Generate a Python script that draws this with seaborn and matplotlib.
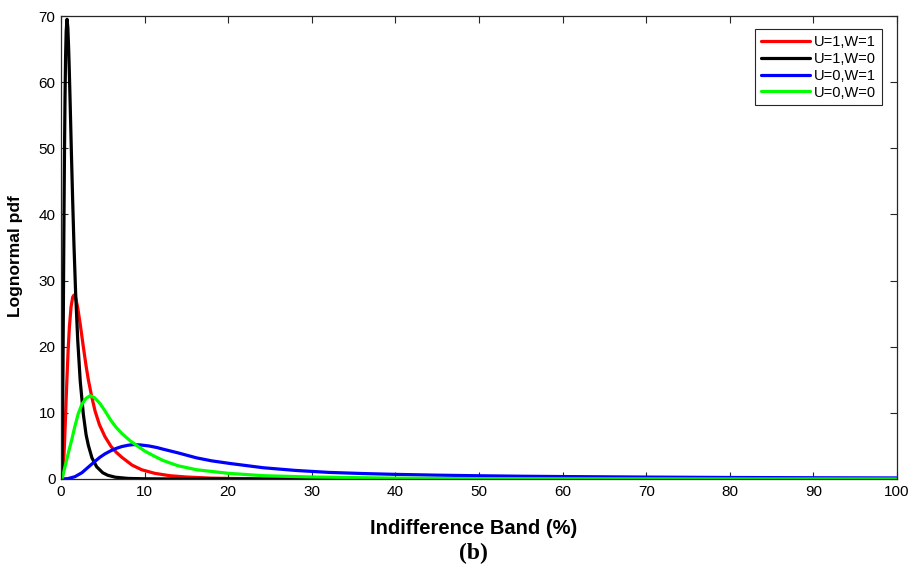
import numpy as np
import pandas as pd
import matplotlib
matplotlib.use("Agg")
import matplotlib.pyplot as plt
import seaborn as sns

# ---- data (x in %, y = lognormal pdf) ----
series_names = ["U=1,W=1", "U=1,W=0", "U=0,W=1", "U=0,W=0"]
series_colors = ["#ff0000", "#000000", "#0000ff", "#00ff00"]

x_u1w1 = [0, 0.1, 0.2, 0.3, 0.4, 0.5, 0.6, 0.7, 0.85, 1.0, 1.2, 1.4, 1.55, 1.75, 2.0,
          2.3, 2.67, 3.0, 3.27, 3.7, 4.07, 4.6, 5.26, 6.0, 6.6, 7.26, 8.5, 9.65, 11.2, 13,
          15, 18, 22, 30, 40, 100]
y_u1w1 = [0, 0.05, 0.6, 2.2, 4.8, 8.0, 11.5, 14.8, 19.4, 22.9, 26.0, 27.5, 27.8, 27.4,
          25.9, 23.4, 20.0, 17.1, 15.0, 12.3, 10.3, 8.2, 6.4, 4.9, 4.05, 3.3, 2.1, 1.4,
          0.86, 0.5, 0.3, 0.13, 0.05, 0.01, 0, 0]

x_u1w0 = [0, 0.05, 0.1, 0.16, 0.24, 0.3, 0.36, 0.42, 0.48, 0.55, 0.62, 0.72, 0.82, 0.92,
          1.0, 1.1, 1.25, 1.4, 1.55, 1.75, 2.0, 2.3, 2.67, 3.0, 3.27, 3.7, 4.27, 5.0,
          5.6, 6.5, 8, 10, 15, 100]
y_u1w0 = [0, 0.02, 0.8, 5.2, 17.4, 28.9, 40.0, 49.8, 57.6, 64.0, 67.7, 69.5, 68.2, 64.9,
          61.4, 56.6, 49.0, 41.9, 35.4, 28.1, 21.0, 14.8, 9.8, 6.7, 5.1, 3.2, 1.84, 0.94,
          0.56, 0.27, 0.09, 0.03, 0, 0]

x_u0w1 = [0, 0.8, 1.67, 2.5, 3.27, 4.0, 4.67, 5.26, 6.0, 6.66, 7.26, 8.0, 8.65, 9.5,
          10.5, 11.5, 12.24, 14, 16.2, 18, 20.2, 24.2, 28, 32, 36, 40, 45, 50, 55, 60,
          70, 80, 90, 100]
y_u0w1 = [0, 0.05, 0.35, 0.95, 1.8, 2.6, 3.3, 3.8, 4.3, 4.65, 4.9, 5.1, 5.2, 5.15,
          5.0, 4.75, 4.5, 3.95, 3.2, 2.75, 2.35, 1.7, 1.3, 1.0, 0.83, 0.7, 0.58, 0.49,
          0.42, 0.37, 0.29, 0.23, 0.19, 0.16]

x_u0w0 = [0, 0.15, 0.28, 0.45, 0.68, 0.95, 1.28, 1.65, 2.07, 2.5, 3.0, 3.5, 4.0, 4.67,
          5.26, 5.6, 6.0, 6.6, 7.26, 8.25, 9.25, 10.05, 11.24, 12.2, 14, 16.2, 20, 24.2,
          30, 40, 50, 60, 80, 100]
y_u0w0 = [0, 0.2, 0.86, 1.7, 2.9, 4.3, 5.9, 7.9, 9.9, 11.3, 12.2, 12.6, 12.3, 11.4,
          10.3, 9.6, 8.8, 7.8, 6.9, 5.8, 4.9, 4.2, 3.4, 2.8, 2.0, 1.4, 0.86, 0.5,
          0.3, 0.13, 0.06, 0.03, 0.01, 0.005]

x_ticks = list(range(0, 101, 10))
y_ticks = list(range(0, 71, 10))

frames = []
for name, xs, ys in zip(series_names,
                        [x_u1w1, x_u1w0, x_u0w1, x_u0w0],
                        [y_u1w1, y_u1w0, y_u0w1, y_u0w0]):
    frames.append(pd.DataFrame({"x": xs, "y": ys, "series": name}))
df = pd.concat(frames, ignore_index=True)

# ---- style ----
sns.set_style("ticks")
plt.rcParams["font.family"] = ["Liberation Sans", "DejaVu Sans"]
plt.rcParams["text.color"] = "black"
plt.rcParams["axes.labelcolor"] = "black"
plt.rcParams["xtick.color"] = "black"
plt.rcParams["ytick.color"] = "black"

fig = plt.figure(figsize=(9.14, 5.66), dpi=100)
ax = fig.add_axes([61 / 914, 1 - 479 / 566, 836 / 914, 463 / 566])

sns.lineplot(data=df, x="x", y="y", hue="series", hue_order=series_names,
             palette=series_colors, estimator=None, sort=False, linewidth=2.3,
             legend=False, ax=ax)

ax.set_xlim(0, 100)
ax.set_ylim(0, 70)
ax.set_xticks(x_ticks)
ax.set_yticks(y_ticks)
ax.tick_params(direction="in", top=True, right=True, length=5, width=0.8,
               labelsize=11, pad=4, colors="#262626", labelcolor="black")
for sp in ax.spines.values():
    sp.set_visible(True)
    sp.set_color("#262626")
    sp.set_linewidth(0.9)

ax.set_xlabel("Indifference Band (%)", fontsize=14.5, fontweight="bold", va="center",
              color="black")
ax.xaxis.set_label_coords(0.494, (479 - 528) / 463)
ax.set_ylabel("Lognormal pdf", fontsize=12.5, fontweight="bold", va="center",
              color="black")
ax.yaxis.set_label_coords((15 - 61) / 836, (479 - 256) / 463)

fig.text(473 / 914, 1 - 553 / 566, "(b)", ha="center", va="center",
         family=["Liberation Serif", "DejaVu Serif"], fontweight="bold", fontsize=17,
         color="black")

leg = ax.legend(handles=ax.lines[:4], labels=series_names, loc="upper right",
                bbox_to_anchor=((882 - 61) / 836, (479 - 29) / 463),
                borderaxespad=0, fontsize=10.5, frameon=True, fancybox=False,
                framealpha=1, edgecolor="#262626", handlelength=3.4,
                handletextpad=0.25, labelspacing=0.2, borderpad=0.4)
leg.get_frame().set_linewidth(0.8)
for t in leg.get_texts():
    t.set_color("black")

fig.savefig("out.png", dpi=100)
